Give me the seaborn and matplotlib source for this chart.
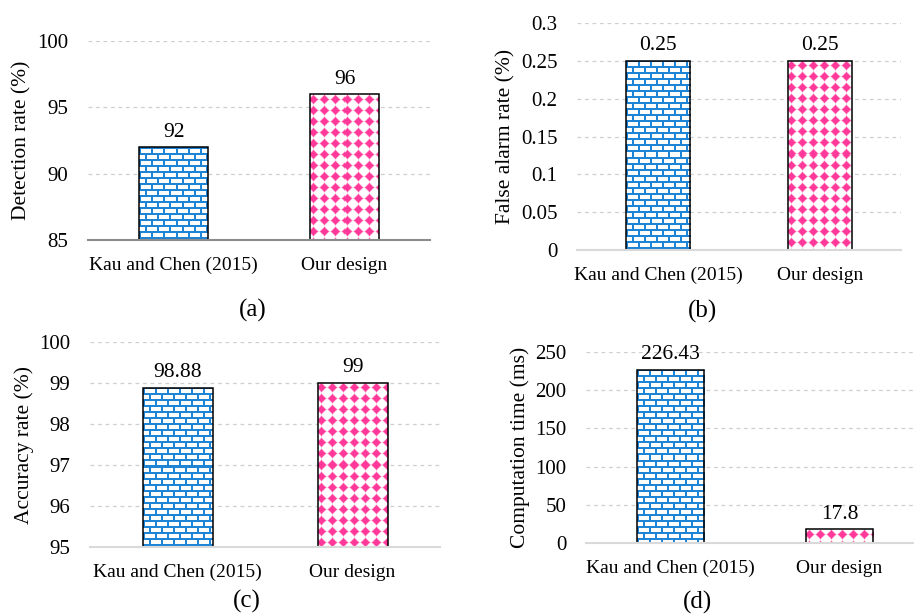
import numpy as np
import pandas as pd
import seaborn as sns
import matplotlib.pyplot as plt
from matplotlib.ticker import FuncFormatter

# datos de las cuatro graficas
categories = ["Kau and Chen (2015)", "Our design"]
detection = [92, 96]
false_alarm = [0.25, 0.25]
accuracy = [98.88, 99]
comp_time = [226.43, 17.8]

det_ticks = [85, 90, 95, 100]
fa_ticks = [0, 0.05, 0.1, 0.15, 0.2, 0.25, 0.3]
acc_ticks = [95, 96, 97, 98, 99, 100]
time_ticks = [0, 50, 100, 150, 200, 250]

sns.set_theme(style="white")
plt.rcParams['font.family'] = ['Liberation Serif', 'DejaVu Serif']

BLUE = np.array([0.12, 0.52, 0.84])
PINK = np.array([1.0, 0.22, 0.60])


def brick_tile(h, w):
    # textura de ladrillos (lineas azules sobre blanco)
    img = np.ones((h, w, 3))
    yy, xx = np.mgrid[0:h, 0:w]
    row = yy // 6
    hor = (yy % 6) < 2
    ver = ((xx + (row % 2) * 6) % 12) < 2
    img[hor | ver] = BLUE
    return img


def diamond_tile(h, w):
    # textura de rombos rosas sobre blanco
    img = np.ones((h, w, 3))
    yy, xx = np.mgrid[0:h, 0:w]
    dy = np.abs((yy % 11) - 5)
    dx = np.abs(((xx + 2) % 11) - 5)
    d = dx + dy
    img[d == 5] = 0.25 * PINK + 0.75
    img[d == 4] = 0.8 * PINK + 0.2
    img[d <= 3] = PINK
    return img


def fill_bar(ax, bar, tile):
    # relleno la barra con una imagen recortada a su forma
    x0, y0 = bar.get_x(), bar.get_y()
    x1, y1 = x0 + bar.get_width(), y0 + bar.get_height()
    lo, hi = ax.get_ylim()
    y0, y1 = max(y0, lo), min(y1, hi)
    p0 = ax.transData.transform((x0, y0))
    p1 = ax.transData.transform((x1, y1))
    wpx = max(int(round(abs(p1[0] - p0[0]))), 1)
    hpx = max(int(round(abs(p1[1] - p0[1]))), 1)
    img = tile(hpx, wpx)
    im = ax.imshow(img, extent=(x0, x1, y0, y1), origin='upper',
                   interpolation='nearest', aspect='auto', zorder=1.5)
    im.set_clip_path(bar)
    bar.set_facecolor('none')
    bar.set_edgecolor('black')
    bar.set_linewidth(1.1)
    bar.set_zorder(2)


panels = [
    (detection, "Detection rate (%)", (85, 100), det_ticks,
     [0.0963, 0.6091, 0.3742, 0.3241], '#8c8c8c', "(a)", (0.277, 0.495)),
    (false_alarm, "False alarm rate (%)", (0, 0.3), fa_ticks,
     [0.6313, 0.5928, 0.3545, 0.3697], '#d9d9d9', "(b)", (0.769, 0.492)),
    (accuracy, "Accuracy rate (%)", (95, 100), acc_ticks,
     [0.0985, 0.1091, 0.3829, 0.3339], '#d9d9d9', "(c)", (0.270, 0.020)),
    (comp_time, "Computation time (ms)", (0, 250), time_ticks,
     [0.6411, 0.1156, 0.3698, 0.3111], '#d9d9d9', "(d)", (0.763, 0.018)),
]

fig = plt.figure(figsize=(9.14, 6.14), dpi=100)

for values, ylabel, ylim, ticks, rect, spine_col, caption, cap_pos in panels:
    ax = fig.add_axes(rect)
    df = pd.DataFrame({"cat": categories, "val": values})
    sns.barplot(data=df, x="cat", y="val", ax=ax, width=0.4, color='white')

    ax.set_xlim(-0.5, 1.5)
    ax.set_ylim(*ylim)
    ax.set_yticks(ticks)
    ax.yaxis.set_major_formatter(FuncFormatter(lambda v, p: f"{v:g}"))

    # cuadricula punteada gris
    ax.set_axisbelow(True)
    ax.yaxis.grid(True, linestyle=(0, (3, 3)), color='#cfcfcf', linewidth=0.9)
    for s in ['left', 'top', 'right']:
        ax.spines[s].set_visible(False)
    ax.spines['bottom'].set_color(spine_col)
    ax.spines['bottom'].set_linewidth(1.5)

    ax.tick_params(axis='y', length=0, pad=14, labelsize=15, colors='black')
    ax.tick_params(axis='x', length=0, pad=12, labelsize=14, colors='black')
    ax.set_xlabel("")
    ax.set_ylabel(ylabel, fontsize=15.5, color='black', labelpad=4)

    bars = ax.patches
    fill_bar(ax, bars[0], brick_tile)
    fill_bar(ax, bars[1], diamond_tile)
    ax.set_xlim(-0.5, 1.5)
    ax.set_ylim(*ylim)

    # etiquetas de valor encima de cada barra
    for bar, v in zip(bars, values):
        ax.annotate(f"{v:g}", (bar.get_x() + bar.get_width() / 2, v),
                    xytext=(0, 4), textcoords='offset points',
                    ha='center', va='bottom', fontsize=15.5, color='black',
                    annotation_clip=False)

    fig.text(cap_pos[0], cap_pos[1], caption, ha='center', va='center',
             fontsize=18, color='black')

fig.savefig("out.png", dpi=100)
